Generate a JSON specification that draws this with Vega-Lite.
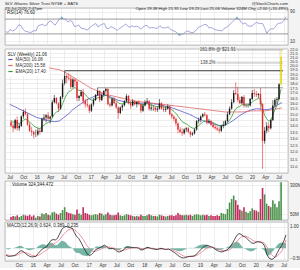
{
"$schema":"https://vega.github.io/schema/vega-lite/v6.json",
"padding":{"left":4,"right":0,"top":1,"bottom":0},
"background":"#f3f3f3",
"spacing":0,
"resolve":{"legend":{"color":"independent"},"scale":{"color":"independent"}},
"config":{
 "font":"Liberation Sans",
 "view":{"stroke":"#8a8a8a","strokeWidth":0.6,"fill":"white"},
 "axis":{"labelFontSize":4.5,"labelColor":"#333","domain":false,"ticks":false,"labelPadding":1.5,"gridColor":"#e3e3e3","gridWidth":0.6,"labelOverlap":false}
},
"datasets":{
"w":[
{"d":"2015-07-10","o":14.3,"h":14.5,"l":13.9,"c":14.0,"v":25,"e":14.41,"r":36,"m":-0.33,"s":-0.30,"mh":-0.03},
{"d":"2015-07-24","o":14.0,"h":14.2,"l":13.5,"c":13.8,"v":35,"e":14.30,"r":34,"m":-0.38,"s":-0.32,"mh":-0.06},
{"d":"2015-08-07","o":13.8,"h":14.6,"l":13.7,"c":14.5,"v":30,"e":14.34,"r":42,"m":-0.38,"s":-0.35,"mh":-0.03},
{"d":"2015-08-21","o":14.5,"h":14.8,"l":13.6,"c":13.8,"v":40,"e":14.24,"r":38,"m":-0.36,"s":-0.36,"mh":0.0},
{"d":"2015-09-04","o":13.8,"h":14.2,"l":13.6,"c":14.0,"v":25,"e":14.20,"r":40,"m":-0.34,"s":-0.36,"mh":0.02},
{"d":"2015-09-18","o":14.0,"h":14.9,"l":13.9,"c":14.8,"v":35,"e":14.31,"r":46,"m":-0.28,"s":-0.33,"mh":0.05},
{"d":"2015-10-02","o":14.8,"h":15.4,"l":14.6,"c":15.2,"v":45,"e":14.47,"r":55,"m":-0.18,"s":-0.28,"mh":0.10},
{"d":"2015-10-16","o":15.2,"h":15.5,"l":14.9,"c":15.0,"v":40,"e":14.57,"r":52,"m":-0.12,"s":-0.23,"mh":0.11},
{"d":"2015-10-30","o":15.0,"h":15.1,"l":14.0,"c":14.1,"v":35,"e":14.48,"r":42,"m":-0.15,"s":-0.20,"mh":0.05},
{"d":"2015-11-13","o":14.1,"h":14.3,"l":13.5,"c":13.6,"v":45,"e":14.32,"r":37,"m":-0.24,"s":-0.21,"mh":-0.03},
{"d":"2015-11-27","o":13.6,"h":13.9,"l":13.2,"c":13.5,"v":30,"e":14.17,"r":36,"m":-0.32,"s":-0.24,"mh":-0.08},
{"d":"2015-12-11","o":13.5,"h":13.6,"l":13.0,"c":13.3,"v":40,"e":14.01,"r":34,"m":-0.38,"s":-0.28,"mh":-0.10},
{"d":"2015-12-25","o":13.3,"h":13.7,"l":13.1,"c":13.3,"v":20,"e":13.88,"r":35,"m":-0.41,"s":-0.33,"mh":-0.08},
{"d":"2016-01-08","o":13.3,"h":13.8,"l":13.2,"c":13.6,"v":35,"e":13.83,"r":39,"m":-0.40,"s":-0.36,"mh":-0.04},
{"d":"2016-01-22","o":13.6,"h":13.8,"l":13.3,"c":13.5,"v":30,"e":13.77,"r":38,"m":-0.38,"s":-0.37,"mh":-0.01},
{"d":"2016-02-05","o":13.5,"h":14.7,"l":13.5,"c":14.6,"v":55,"e":13.92,"r":52,"m":-0.25,"s":-0.34,"mh":0.09},
{"d":"2016-02-19","o":14.6,"h":15.0,"l":14.4,"c":14.7,"v":50,"e":14.06,"r":54,"m":-0.14,"s":-0.29,"mh":0.15},
{"d":"2016-03-04","o":14.7,"h":15.0,"l":14.3,"c":14.9,"v":60,"e":14.21,"r":56,"m":-0.04,"s":-0.22,"mh":0.18},
{"d":"2016-03-18","o":14.9,"h":15.2,"l":14.5,"c":14.6,"v":45,"e":14.28,"r":52,"m":0.02,"s":-0.15,"mh":0.17},
{"d":"2016-04-01","o":14.6,"h":14.8,"l":14.2,"c":14.8,"v":40,"e":14.37,"r":54,"m":0.06,"s":-0.09,"mh":0.15},
{"d":"2016-04-15","o":14.8,"h":16.3,"l":14.7,"c":16.1,"v":65,"e":14.68,"r":63,"m":0.22,"s":0.00,"mh":0.22},
{"d":"2016-04-29","o":16.1,"h":16.8,"l":16.0,"c":16.5,"v":70,"e":15.01,"r":65,"m":0.36,"s":0.10,"mh":0.26},
{"d":"2016-05-13","o":16.5,"h":16.6,"l":15.9,"c":16.0,"v":55,"e":15.19,"r":58,"m":0.40,"s":0.18,"mh":0.22},
{"d":"2016-05-27","o":16.0,"h":16.1,"l":15.2,"c":15.5,"v":45,"e":15.25,"r":54,"m":0.38,"s":0.24,"mh":0.14},
{"d":"2016-06-10","o":15.5,"h":16.7,"l":15.4,"c":16.6,"v":60,"e":15.49,"r":62,"m":0.45,"s":0.30,"mh":0.15},
{"d":"2016-06-24","o":16.6,"h":18.4,"l":16.4,"c":18.0,"v":85,"e":15.94,"r":70,"m":0.65,"s":0.40,"mh":0.25},
{"d":"2016-07-08","o":18.0,"h":19.39,"l":17.8,"c":18.8,"v":110,"e":16.45,"r":74,"m":0.86,"s":0.52,"mh":0.34},
{"d":"2016-07-22","o":18.8,"h":19.0,"l":18.0,"c":18.6,"v":70,"e":16.84,"r":71,"m":0.97,"s":0.65,"mh":0.32},
{"d":"2016-08-05","o":18.6,"h":19.1,"l":18.3,"c":18.5,"v":60,"e":17.14,"r":69,"m":1.02,"s":0.76,"mh":0.26},
{"d":"2016-08-19","o":18.5,"h":18.8,"l":17.4,"c":17.6,"v":55,"e":17.22,"r":62,"m":0.98,"s":0.84,"mh":0.14},
{"d":"2016-09-02","o":17.6,"h":18.6,"l":17.5,"c":18.4,"v":50,"e":17.43,"r":66,"m":0.96,"s":0.89,"mh":0.07},
{"d":"2016-09-16","o":18.4,"h":18.5,"l":17.7,"c":18.2,"v":45,"e":17.57,"r":63,"m":0.92,"s":0.91,"mh":0.01},
{"d":"2016-09-30","o":18.2,"h":18.3,"l":16.2,"c":16.5,"v":90,"e":17.38,"r":50,"m":0.72,"s":0.86,"mh":-0.14},
{"d":"2016-10-14","o":16.5,"h":16.8,"l":16.2,"c":16.7,"v":55,"e":17.26,"r":51,"m":0.55,"s":0.78,"mh":-0.23},
{"d":"2016-10-28","o":16.7,"h":17.3,"l":16.6,"c":17.1,"v":45,"e":17.23,"r":54,"m":0.45,"s":0.68,"mh":-0.23},
{"d":"2016-11-11","o":17.1,"h":17.4,"l":15.9,"c":16.2,"v":110,"e":17.04,"r":46,"m":0.28,"s":0.56,"mh":-0.28},
{"d":"2016-11-25","o":16.2,"h":16.4,"l":15.6,"c":15.9,"v":60,"e":16.83,"r":44,"m":0.08,"s":0.42,"mh":-0.34},
{"d":"2016-12-09","o":15.9,"h":16.4,"l":15.6,"c":15.8,"v":55,"e":16.64,"r":43,"m":-0.10,"s":0.26,"mh":-0.36},
{"d":"2016-12-23","o":15.8,"h":15.9,"l":15.1,"c":15.3,"v":45,"e":16.40,"r":40,"m":-0.28,"s":0.10,"mh":-0.38},
{"d":"2017-01-06","o":15.3,"h":16.0,"l":15.2,"c":15.9,"v":40,"e":16.31,"r":47,"m":-0.34,"s":-0.03,"mh":-0.31},
{"d":"2017-01-20","o":15.9,"h":16.5,"l":15.7,"c":16.3,"v":45,"e":16.31,"r":51,"m":-0.30,"s":-0.12,"mh":-0.18},
{"d":"2017-02-03","o":16.3,"h":16.9,"l":16.2,"c":16.8,"v":50,"e":16.40,"r":55,"m":-0.20,"s":-0.16,"mh":-0.04},
{"d":"2017-02-17","o":16.8,"h":17.54,"l":16.7,"c":17.2,"v":45,"e":16.54,"r":58,"m":-0.06,"s":-0.14,"mh":0.08},
{"d":"2017-03-03","o":17.2,"h":17.3,"l":16.1,"c":16.3,"v":60,"e":16.50,"r":49,"m":-0.02,"s":-0.10,"mh":0.08},
{"d":"2017-03-17","o":16.3,"h":17.0,"l":16.2,"c":16.8,"v":55,"e":16.55,"r":53,"m":0.02,"s":-0.06,"mh":0.08},
{"d":"2017-03-31","o":16.8,"h":17.3,"l":16.7,"c":17.2,"v":40,"e":16.67,"r":56,"m":0.08,"s":-0.02,"mh":0.10},
{"d":"2017-04-14","o":17.2,"h":17.5,"l":17.0,"c":17.4,"v":50,"e":16.80,"r":58,"m":0.14,"s":0.03,"mh":0.11},
{"d":"2017-04-28","o":17.4,"h":17.5,"l":15.8,"c":15.9,"v":65,"e":16.64,"r":45,"m":0.08,"s":0.06,"mh":0.02},
{"d":"2017-05-12","o":15.9,"h":16.1,"l":15.6,"c":15.8,"v":45,"e":16.49,"r":44,"m":0.00,"s":0.05,"mh":-0.05},
{"d":"2017-05-26","o":15.8,"h":16.5,"l":15.7,"c":16.4,"v":40,"e":16.47,"r":50,"m":-0.02,"s":0.03,"mh":-0.05},
{"d":"2017-06-09","o":16.4,"h":16.6,"l":15.9,"c":16.0,"v":40,"e":16.39,"r":47,"m":-0.02,"s":0.01,"mh":-0.03},
{"d":"2017-06-23","o":16.0,"h":16.2,"l":15.5,"c":15.6,"v":45,"e":16.25,"r":44,"m":-0.06,"s":-0.01,"mh":-0.05},
{"d":"2017-07-07","o":15.6,"h":15.7,"l":14.6,"c":15.1,"v":65,"e":16.04,"r":39,"m":-0.16,"s":-0.05,"mh":-0.11},
{"d":"2017-07-21","o":15.1,"h":15.7,"l":15.0,"c":15.6,"v":40,"e":15.96,"r":45,"m":-0.18,"s":-0.09,"mh":-0.09},
{"d":"2017-08-04","o":15.6,"h":15.9,"l":15.3,"c":15.8,"v":35,"e":15.93,"r":48,"m":-0.14,"s":-0.11,"mh":-0.03},
{"d":"2017-08-18","o":15.8,"h":16.3,"l":15.7,"c":16.2,"v":40,"e":15.98,"r":52,"m":-0.08,"s":-0.10,"mh":0.02},
{"d":"2017-09-01","o":16.2,"h":16.9,"l":16.1,"c":16.7,"v":50,"e":16.11,"r":57,"m":0.02,"s":-0.07,"mh":0.09},
{"d":"2017-09-15","o":16.7,"h":16.8,"l":15.9,"c":16.0,"v":45,"e":16.09,"r":50,"m":0.06,"s":-0.04,"mh":0.10},
{"d":"2017-09-29","o":16.0,"h":16.2,"l":15.5,"c":15.8,"v":40,"e":16.04,"r":48,"m":0.04,"s":-0.01,"mh":0.05},
{"d":"2017-10-13","o":15.8,"h":16.4,"l":15.7,"c":16.2,"v":35,"e":16.07,"r":52,"m":0.04,"s":0.01,"mh":0.03},
{"d":"2017-10-27","o":16.2,"h":16.3,"l":15.8,"c":15.9,"v":30,"e":16.04,"r":49,"m":0.02,"s":0.02,"mh":0.0},
{"d":"2017-11-10","o":15.9,"h":16.2,"l":15.6,"c":16.1,"v":35,"e":16.05,"r":51,"m":0.02,"s":0.02,"mh":0.0},
{"d":"2017-11-24","o":16.1,"h":16.3,"l":15.8,"c":15.9,"v":30,"e":16.02,"r":49,"m":0.00,"s":0.01,"mh":-0.01},
{"d":"2017-12-08","o":15.9,"h":15.9,"l":15.1,"c":15.3,"v":45,"e":15.89,"r":43,"m":-0.08,"s":-0.01,"mh":-0.07},
{"d":"2017-12-22","o":15.3,"h":15.9,"l":15.2,"c":15.8,"v":35,"e":15.87,"r":48,"m":-0.08,"s":-0.03,"mh":-0.05},
{"d":"2018-01-05","o":15.8,"h":16.3,"l":15.7,"c":16.1,"v":35,"e":15.91,"r":52,"m":-0.02,"s":-0.03,"mh":0.01},
{"d":"2018-01-19","o":16.1,"h":16.5,"l":16.0,"c":16.2,"v":40,"e":15.96,"r":53,"m":0.04,"s":-0.01,"mh":0.05},
{"d":"2018-02-02","o":16.2,"h":16.3,"l":15.3,"c":15.5,"v":50,"e":15.88,"r":46,"m":0.02,"s":0.00,"mh":0.02},
{"d":"2018-02-16","o":15.5,"h":15.9,"l":15.3,"c":15.6,"v":40,"e":15.83,"r":47,"m":-0.02,"s":0.00,"mh":-0.02},
{"d":"2018-03-02","o":15.6,"h":15.8,"l":15.3,"c":15.6,"v":35,"e":15.79,"r":47,"m":-0.04,"s":-0.01,"mh":-0.03},
{"d":"2018-03-16","o":15.6,"h":15.7,"l":15.2,"c":15.4,"v":35,"e":15.72,"r":45,"m":-0.06,"s":-0.03,"mh":-0.03},
{"d":"2018-03-30","o":15.4,"h":15.7,"l":15.2,"c":15.5,"v":30,"e":15.68,"r":46,"m":-0.06,"s":-0.04,"mh":-0.02},
{"d":"2018-04-13","o":15.5,"h":16.4,"l":15.4,"c":16.0,"v":45,"e":15.74,"r":52,"m":-0.02,"s":-0.04,"mh":0.02},
{"d":"2018-04-27","o":16.0,"h":16.1,"l":15.4,"c":15.5,"v":40,"e":15.70,"r":47,"m":-0.02,"s":-0.03,"mh":0.01},
{"d":"2018-05-11","o":15.5,"h":15.8,"l":15.2,"c":15.4,"v":35,"e":15.65,"r":46,"m":-0.05,"s":-0.04,"mh":-0.01},
{"d":"2018-05-25","o":15.4,"h":15.7,"l":15.2,"c":15.5,"v":30,"e":15.62,"r":47,"m":-0.06,"s":-0.05,"mh":-0.01},
{"d":"2018-06-08","o":15.5,"h":15.9,"l":15.4,"c":15.7,"v":35,"e":15.63,"r":49,"m":-0.04,"s":-0.05,"mh":0.01},
{"d":"2018-06-22","o":15.7,"h":15.8,"l":14.9,"c":15.0,"v":40,"e":15.52,"r":42,"m":-0.09,"s":-0.06,"mh":-0.03},
{"d":"2018-07-06","o":15.0,"h":15.1,"l":14.6,"c":14.8,"v":40,"e":15.39,"r":39,"m":-0.16,"s":-0.09,"mh":-0.07},
{"d":"2018-07-20","o":14.8,"h":14.9,"l":14.4,"c":14.6,"v":35,"e":15.25,"r":37,"m":-0.22,"s":-0.13,"mh":-0.09},
{"d":"2018-08-03","o":14.6,"h":14.7,"l":14.0,"c":14.2,"v":40,"e":15.06,"r":33,"m":-0.30,"s":-0.18,"mh":-0.12},
{"d":"2018-08-17","o":14.2,"h":14.3,"l":13.4,"c":13.7,"v":60,"e":14.82,"r":27,"m":-0.38,"s":-0.24,"mh":-0.14},
{"d":"2018-08-31","o":13.7,"h":13.9,"l":13.4,"c":13.5,"v":45,"e":14.58,"r":28,"m":-0.44,"s":-0.31,"mh":-0.13},
{"d":"2018-09-14","o":13.5,"h":13.8,"l":13.2,"c":13.4,"v":40,"e":14.37,"r":30,"m":-0.46,"s":-0.36,"mh":-0.10},
{"d":"2018-09-28","o":13.4,"h":13.8,"l":13.3,"c":13.7,"v":40,"e":14.25,"r":36,"m":-0.44,"s":-0.39,"mh":-0.05},
{"d":"2018-10-12","o":13.7,"h":13.9,"l":13.5,"c":13.8,"v":45,"e":14.17,"r":38,"m":-0.40,"s":-0.40,"mh":0.0},
{"d":"2018-10-26","o":13.8,"h":13.9,"l":13.4,"c":13.5,"v":40,"e":14.05,"r":35,"m":-0.38,"s":-0.40,"mh":0.02},
{"d":"2018-11-09","o":13.5,"h":13.6,"l":13.1,"c":13.3,"v":45,"e":13.92,"r":33,"m":-0.38,"s":-0.39,"mh":0.01},
{"d":"2018-11-23","o":13.3,"h":13.5,"l":13.2,"c":13.4,"v":35,"e":13.82,"r":35,"m":-0.36,"s":-0.38,"mh":0.02},
{"d":"2018-12-07","o":13.4,"h":13.8,"l":13.3,"c":13.7,"v":45,"e":13.80,"r":40,"m":-0.30,"s":-0.35,"mh":0.05},
{"d":"2018-12-21","o":13.7,"h":14.5,"l":13.6,"c":14.4,"v":50,"e":13.91,"r":48,"m":-0.18,"s":-0.30,"mh":0.12},
{"d":"2019-01-04","o":14.4,"h":14.7,"l":14.2,"c":14.5,"v":45,"e":14.02,"r":50,"m":-0.08,"s":-0.23,"mh":0.15},
{"d":"2019-01-18","o":14.5,"h":14.9,"l":14.3,"c":14.8,"v":40,"e":14.16,"r":53,"m":0.02,"s":-0.15,"mh":0.17},
{"d":"2019-02-01","o":14.8,"h":15.1,"l":14.7,"c":15.0,"v":45,"e":14.31,"r":56,"m":0.10,"s":-0.07,"mh":0.17},
{"d":"2019-02-15","o":15.0,"h":15.2,"l":14.8,"c":14.9,"v":40,"e":14.42,"r":54,"m":0.14,"s":0.00,"mh":0.14},
{"d":"2019-03-01","o":14.9,"h":15.0,"l":14.1,"c":14.3,"v":45,"e":14.40,"r":46,"m":0.10,"s":0.04,"mh":0.06},
{"d":"2019-03-15","o":14.3,"h":14.6,"l":14.2,"c":14.4,"v":35,"e":14.40,"r":47,"m":0.06,"s":0.05,"mh":0.01},
{"d":"2019-03-29","o":14.4,"h":14.5,"l":14.0,"c":14.1,"v":40,"e":14.35,"r":44,"m":0.02,"s":0.04,"mh":-0.02},
{"d":"2019-04-12","o":14.1,"h":14.3,"l":13.8,"c":13.9,"v":35,"e":14.27,"r":41,"m":-0.06,"s":0.01,"mh":-0.07},
{"d":"2019-04-26","o":13.9,"h":14.1,"l":13.7,"c":13.8,"v":35,"e":14.18,"r":40,"m":-0.12,"s":-0.03,"mh":-0.09},
{"d":"2019-05-10","o":13.8,"h":14.0,"l":13.6,"c":13.7,"v":40,"e":14.10,"r":39,"m":-0.16,"s":-0.07,"mh":-0.09},
{"d":"2019-05-24","o":13.7,"h":13.9,"l":13.4,"c":13.6,"v":35,"e":14.01,"r":38,"m":-0.18,"s":-0.11,"mh":-0.07},
{"d":"2019-06-07","o":13.6,"h":14.1,"l":13.5,"c":14.0,"v":60,"e":14.01,"r":45,"m":-0.14,"s":-0.12,"mh":-0.02},
{"d":"2019-06-21","o":14.0,"h":14.4,"l":13.8,"c":14.1,"v":55,"e":14.03,"r":47,"m":-0.10,"s":-0.12,"mh":0.02},
{"d":"2019-07-05","o":14.1,"h":14.5,"l":14.0,"c":14.4,"v":50,"e":14.09,"r":51,"m":-0.04,"s":-0.10,"mh":0.06},
{"d":"2019-07-19","o":14.4,"h":15.2,"l":14.3,"c":15.0,"v":95,"e":14.25,"r":58,"m":0.08,"s":-0.05,"mh":0.13},
{"d":"2019-08-02","o":15.0,"h":15.7,"l":14.9,"c":15.5,"v":150,"e":14.48,"r":63,"m":0.24,"s":0.04,"mh":0.20},
{"d":"2019-08-16","o":15.5,"h":16.4,"l":15.4,"c":16.1,"v":180,"e":14.77,"r":68,"m":0.42,"s":0.15,"mh":0.27},
{"d":"2019-08-30","o":16.1,"h":17.3,"l":16.0,"c":17.0,"v":210,"e":15.17,"r":74,"m":0.60,"s":0.30,"mh":0.30},
{"d":"2019-09-13","o":17.0,"h":18.1,"l":16.8,"c":16.9,"v":170,"e":15.48,"r":70,"m":0.68,"s":0.43,"mh":0.25},
{"d":"2019-09-27","o":16.9,"h":17.6,"l":16.1,"c":16.3,"v":130,"e":15.63,"r":61,"m":0.64,"s":0.52,"mh":0.12},
{"d":"2019-10-11","o":16.3,"h":16.6,"l":15.9,"c":16.0,"v":90,"e":15.70,"r":57,"m":0.56,"s":0.56,"mh":0.0},
{"d":"2019-10-25","o":16.0,"h":16.7,"l":15.9,"c":16.6,"v":80,"e":15.86,"r":60,"m":0.52,"s":0.56,"mh":-0.04},
{"d":"2019-11-08","o":16.6,"h":16.8,"l":15.6,"c":15.8,"v":110,"e":15.85,"r":52,"m":0.42,"s":0.52,"mh":-0.10},
{"d":"2019-11-22","o":15.8,"h":16.0,"l":15.6,"c":15.8,"v":70,"e":15.84,"r":51,"m":0.32,"s":0.46,"mh":-0.14},
{"d":"2019-12-06","o":15.8,"h":16.0,"l":15.6,"c":15.8,"v":60,"e":15.83,"r":51,"m":0.24,"s":0.39,"mh":-0.15},
{"d":"2019-12-20","o":15.8,"h":16.5,"l":15.7,"c":16.4,"v":75,"e":15.93,"r":56,"m":0.22,"s":0.33,"mh":-0.11},
{"d":"2020-01-03","o":16.4,"h":17.3,"l":16.3,"c":17.0,"v":100,"e":16.12,"r":61,"m":0.28,"s":0.31,"mh":-0.03},
{"d":"2020-01-17","o":17.0,"h":17.4,"l":16.6,"c":16.9,"v":85,"e":16.26,"r":59,"m":0.30,"s":0.30,"mh":0.0},
{"d":"2020-01-31","o":16.9,"h":17.2,"l":16.6,"c":16.8,"v":80,"e":16.36,"r":58,"m":0.28,"s":0.29,"mh":-0.01},
{"d":"2020-02-14","o":16.8,"h":17.0,"l":16.5,"c":16.9,"v":70,"e":16.46,"r":58,"m":0.24,"s":0.28,"mh":-0.04},
{"d":"2020-02-28","o":16.9,"h":17.5,"l":15.4,"c":15.9,"v":180,"e":16.36,"r":47,"m":0.10,"s":0.22,"mh":-0.12},
{"d":"2020-03-13","o":15.9,"h":16.0,"l":10.86,"c":12.8,"v":275,"e":15.50,"r":31,"m":-0.28,"s":0.06,"mh":-0.34},
{"d":"2020-03-27","o":12.8,"h":13.9,"l":12.6,"c":13.6,"v":220,"e":14.90,"r":40,"m":-0.46,"s":-0.12,"mh":-0.34},
{"d":"2020-04-10","o":13.6,"h":14.3,"l":13.4,"c":14.0,"v":140,"e":14.60,"r":44,"m":-0.52,"s":-0.28,"mh":-0.24},
{"d":"2020-04-24","o":14.0,"h":14.3,"l":13.5,"c":13.8,"v":120,"e":14.40,"r":43,"m":-0.50,"s":-0.38,"mh":-0.12},
{"d":"2020-05-08","o":13.8,"h":14.6,"l":13.7,"c":14.5,"v":110,"e":14.45,"r":49,"m":-0.40,"s":-0.42,"mh":0.02},
{"d":"2020-05-22","o":14.5,"h":16.3,"l":14.4,"c":15.8,"v":170,"e":14.90,"r":57,"m":-0.20,"s":-0.36,"mh":0.16},
{"d":"2020-06-05","o":15.8,"h":16.5,"l":15.6,"c":16.3,"v":140,"e":15.40,"r":59,"m":-0.02,"s":-0.26,"mh":0.24},
{"d":"2020-06-19","o":16.3,"h":16.6,"l":15.9,"c":16.4,"v":110,"e":15.80,"r":60,"m":0.12,"s":-0.14,"mh":0.26},
{"d":"2020-07-03","o":16.4,"h":18.0,"l":16.3,"c":17.9,"v":160,"e":16.50,"r":66,"m":0.34,"s":0.10,"mh":0.24},
{"d":"2020-07-17","o":17.9,"h":21.91,"l":17.7,"c":21.06,"v":324,"e":17.40,"r":76.6,"m":0.62,"s":0.39,"mh":0.23}
],
"ma":[
{"d":"2015-07-01","ma50":15.9,"ma200":20.9},{"d":"2015-08-01","ma50":15.7,"ma200":20.75},{"d":"2015-09-01","ma50":15.5,"ma200":20.6},{"d":"2015-10-01","ma50":15.3,"ma200":20.45},{"d":"2015-11-01","ma50":15.1,"ma200":20.3},{"d":"2015-12-01","ma50":14.9,"ma200":20.15},
{"d":"2016-01-01","ma50":14.7,"ma200":20.0},{"d":"2016-02-01","ma50":14.6,"ma200":19.9},{"d":"2016-03-01","ma50":14.5,"ma200":19.8},{"d":"2016-04-01","ma50":14.4,"ma200":19.7},{"d":"2016-05-01","ma50":14.35,"ma200":19.6},{"d":"2016-06-01","ma50":14.4,"ma200":19.5},{"d":"2016-07-01","ma50":14.7,"ma200":19.3},{"d":"2016-08-01","ma50":15.0,"ma200":19.0},{"d":"2016-09-01","ma50":15.4,"ma200":18.7},{"d":"2016-10-01","ma50":15.7,"ma200":18.4},{"d":"2016-11-01","ma50":16.0,"ma200":18.1},{"d":"2016-12-01","ma50":16.3,"ma200":17.8},
{"d":"2017-01-01","ma50":16.5,"ma200":17.5},{"d":"2017-02-01","ma50":16.7,"ma200":17.3},{"d":"2017-03-01","ma50":16.8,"ma200":17.1},{"d":"2017-04-01","ma50":16.8,"ma200":16.95},{"d":"2017-05-01","ma50":16.7,"ma200":16.8},{"d":"2017-06-01","ma50":16.5,"ma200":16.7},{"d":"2017-07-01","ma50":16.3,"ma200":16.6},{"d":"2017-08-01","ma50":16.2,"ma200":16.5},{"d":"2017-09-01","ma50":16.1,"ma200":16.4},{"d":"2017-10-01","ma50":16.1,"ma200":16.3},{"d":"2017-11-01","ma50":16.0,"ma200":16.2},{"d":"2017-12-01","ma50":16.0,"ma200":16.15},
{"d":"2018-01-01","ma50":16.0,"ma200":16.1},{"d":"2018-02-01","ma50":16.0,"ma200":16.05},{"d":"2018-03-01","ma50":15.95,"ma200":16.0},{"d":"2018-04-01","ma50":15.9,"ma200":15.95},{"d":"2018-05-01","ma50":15.8,"ma200":15.9},{"d":"2018-06-01","ma50":15.7,"ma200":15.85},{"d":"2018-07-01","ma50":15.6,"ma200":15.8},{"d":"2018-08-01","ma50":15.45,"ma200":15.75},{"d":"2018-09-01","ma50":15.3,"ma200":15.7},{"d":"2018-10-01","ma50":15.15,"ma200":15.65},{"d":"2018-11-01","ma50":15.0,"ma200":15.6},{"d":"2018-12-01","ma50":14.8,"ma200":15.55},
{"d":"2019-01-01","ma50":14.6,"ma200":15.5},{"d":"2019-02-01","ma50":14.45,"ma200":15.45},{"d":"2019-03-01","ma50":14.3,"ma200":15.4},{"d":"2019-04-01","ma50":14.2,"ma200":15.35},{"d":"2019-05-01","ma50":14.1,"ma200":15.3},{"d":"2019-06-01","ma50":14.0,"ma200":15.25},{"d":"2019-07-01","ma50":14.05,"ma200":15.2},{"d":"2019-08-01","ma50":14.25,"ma200":15.2},{"d":"2019-09-01","ma50":14.5,"ma200":15.2},{"d":"2019-10-01","ma50":14.8,"ma200":15.2},{"d":"2019-11-01","ma50":15.05,"ma200":15.2},{"d":"2019-12-01","ma50":15.25,"ma200":15.25},
{"d":"2020-01-01","ma50":15.4,"ma200":15.3},{"d":"2020-02-01","ma50":15.5,"ma200":15.3},{"d":"2020-03-01","ma50":15.45,"ma200":15.3},{"d":"2020-04-01","ma50":15.4,"ma200":15.3},{"d":"2020-05-01","ma50":15.45,"ma200":15.35},{"d":"2020-06-01","ma50":15.65,"ma200":15.45},{"d":"2020-07-01","ma50":15.9,"ma200":15.5},{"d":"2020-07-23","ma50":16.08,"ma200":15.58}
],
"fib":[
{"a":"2016-07-08","b":"2020-07-30","p":19.39,"k":"r1"},
{"a":"2017-02-17","b":"2020-07-30","p":17.54,"k":"r2"},
{"a":"2019-05-05","b":"2020-07-30","p":20.30,"k":"f1"},
{"a":"2019-09-20","b":"2020-07-30","p":21.91,"k":"f2"}
],
"fibt":[
{"a":"2019-04-28","p":20.30,"t":"138.2%"},
{"a":"2019-09-14","p":21.91,"t":"161.8% @ $21.91"}
]
},
"vconcat":[
{
 "width":283,"height":37,
 "layer":[
  {"data":{"values":[{"lv":30},{"lv":70}]},"mark":{"type":"rule","color":"#555","strokeWidth":0.6},"encoding":{"y":{"field":"lv","type":"quantitative"}}},
  {"data":{"name":"w"},"mark":{"type":"line","color":"#8c8fcf","strokeWidth":0.8},
   "encoding":{
    "x":{"field":"d","type":"temporal","title":null,"scale":{"type":"utc","domain":[{"year":2015,"month":7,"date":3,"utc":true},{"year":2020,"month":7,"date":30,"utc":true}]},"axis":{"labels":false,"grid":true,"tickCount":{"interval":"month","step":3}}},
    "y":{"field":"r","type":"quantitative","title":null,"scale":{"domain":[0,100],"nice":false},"axis":{"orient":"right","values":[10,30,50,70,90],"grid":true}}}},
  {"data":{"name":"w"},"transform":[{"filter":"datum.r >= 73.5 && datum.r <= 75"}],"mark":{"type":"point","shape":"triangle-up","filled":true,"size":9,"color":"#4a9f9f"},
   "encoding":{"x":{"field":"d","type":"temporal"},"y":{"field":"r","type":"quantitative"}}},
  {"data":{"name":"w"},"transform":[{"filter":"datum.r <= 27"}],"mark":{"type":"point","shape":"triangle-down","filled":true,"size":9,"color":"#4a9f9f"},
   "encoding":{"x":{"field":"d","type":"temporal"},"y":{"field":"r","type":"quantitative"}}},
  {"data":{"values":[{"t":"RSI(14) 76.60"}]},"mark":{"type":"text","align":"left","baseline":"top","dx":2,"dy":1.5,"fontSize":4.5,"color":"#222"},
   "encoding":{"x":{"datum":{"year":2015,"month":7,"date":3,"utc":true},"type":"temporal"},"y":{"datum":100},"text":{"field":"t"}}},
  {"data":{"values":[{"k":"L"}]},"mark":{"type":"text","align":"left","baseline":"bottom","dy":-2.5,"fontSize":4.2,"lineHeight":5,"color":"#222"},
   "encoding":{"x":{"datum":{"year":2015,"month":7,"date":3,"utc":true},"type":"temporal"},"y":{"datum":100},"text":{"value":["SLV iShares Silver Trust NYSE + BATS","23-Jul-2020 2:47pm"]}}},
  {"data":{"values":[{"k":"R"}]},"mark":{"type":"text","align":"right","baseline":"bottom","dy":-2.5,"fontSize":4.2,"lineHeight":5,"color":"#222"},
   "encoding":{"x":{"datum":{"year":2020,"month":7,"date":30,"utc":true},"type":"temporal"},"y":{"datum":100},"text":{"value":["@StockCharts.com","Open 19.38 High 21.91 Low 19.23 Last 21.06 Volume 324M Chg +2.00 (+10.49%)"]}}}
 ]
},
{
 "width":283,"height":124,
 "layer":[
  {"data":{"name":"fib"},"mark":{"type":"rule"},
   "encoding":{"x":{"field":"a","type":"temporal"},"x2":{"field":"b"},"y":{"field":"p","type":"quantitative"},
    "color":{"condition":[{"test":"datum.k=='r1'","value":"#3a3a3a"},{"test":"datum.k=='r2'","value":"#9a9a9a"}],"value":"#8a8a8a"},
    "strokeWidth":{"condition":[{"test":"datum.k=='r1'","value":1.1},{"test":"datum.k=='r2'","value":0.9}],"value":0.6}}},
  {"data":{"name":"fibt"},"mark":{"type":"text","align":"right","baseline":"middle","fontSize":4.5,"color":"#444"},
   "encoding":{"x":{"field":"a","type":"temporal"},"y":{"field":"p","type":"quantitative"},"text":{"field":"t"}}},
  {"data":{"name":"ma"},"transform":[{"fold":["ma50","ma200"],"as":["k","val"]}],"mark":{"type":"line","strokeWidth":0.8},
   "encoding":{"x":{"field":"d","type":"temporal"},"y":{"field":"val","type":"quantitative"},
    "color":{"field":"k","type":"nominal","scale":{"domain":["ma50","ma200","ema"],"range":["#5454d2","#e06464","#2f9a2f"]},
     "legend":{"title":"SLV (Weekly) 21.06","orient":"top-left","offset":1,"padding":1.5,"fillColor":"white","labelFontSize":4.5,"titleFontSize":4.5,"titleFontWeight":"normal","titleColor":"#222","labelColor":"#333","symbolType":"stroke","symbolStrokeWidth":1.2,"symbolSize":18,"rowPadding":0,"titlePadding":0.5,"labelOffset":2,
      "labelExpr":"datum.label == 'ma50' ? 'MA(50) 16.08' : datum.label == 'ma200' ? 'MA(200) 15.58' : 'EMA(20) 17.40'"}}}},
  {"data":{"name":"w"},"mark":{"type":"line","strokeWidth":0.8},
   "encoding":{"x":{"field":"d","type":"temporal"},"y":{"field":"e","type":"quantitative"},"color":{"datum":"ema"}}},
  {"data":{"name":"w"},"mark":{"type":"rule","strokeWidth":0.6},
   "encoding":{
    "x":{"field":"d","type":"temporal","title":null,"scale":{"type":"utc","domain":[{"year":2015,"month":7,"date":3,"utc":true},{"year":2020,"month":7,"date":30,"utc":true}]},
     "axis":{"grid":true,"tickCount":{"interval":"month","step":3},"labelExpr":"utcFormat(datum.value,'%m')=='01' ? utcFormat(datum.value,'%y') : utcFormat(datum.value,'%b')"}},
    "y":{"field":"l","type":"quantitative","title":null,"scale":{"type":"log","domain":[10.6,22.04],"nice":false},
     "axis":{"orient":"right","values":[11,11.5,12,12.5,13,13.5,14,14.5,15,15.5,16,16.5,17,17.5,18,18.5,19,19.5,20,20.5,21,21.5,22],"format":".1f","labelFontSize":4,"grid":true}},
    "y2":{"field":"h"},
    "color":{"condition":[{"test":"datum.h > 21","value":"#e6d200"},{"test":"datum.c >= datum.o","value":"#1a1a1a"}],"value":"#e32a2a"}}},
  {"data":{"name":"w"},"mark":{"type":"bar","size":1.4},
   "encoding":{"x":{"field":"d","type":"temporal"},"y":{"field":"o","type":"quantitative"},"y2":{"field":"c"},
    "color":{"condition":[{"test":"datum.h > 21","value":"#e6d200"},{"test":"datum.c >= datum.o","value":"#1a1a1a"}],"value":"#e32a2a"}}}
 ]
},
{
 "width":283,"height":39,
 "layer":[
  {"data":{"name":"w"},"mark":{"type":"bar","size":1.6},
   "encoding":{
    "x":{"field":"d","type":"temporal","title":null,"scale":{"type":"utc","domain":[{"year":2015,"month":7,"date":3,"utc":true},{"year":2020,"month":7,"date":30,"utc":true}]},"axis":{"labels":false,"grid":true,"tickCount":{"interval":"month","step":3}}},
    "y":{"field":"v","type":"quantitative","title":null,"scale":{"domain":[0,335],"nice":false},"axis":{"orient":"right","values":[50,100,150,200,250,300],"labelExpr":"datum.value + 'M'","grid":true}},
    "color":{"condition":{"test":"datum.c >= datum.o","value":"#4a914a"},"value":"#c42a5e"}}},
  {"data":{"values":[{"t":"Volume 324,344,472"}]},"mark":{"type":"text","align":"left","baseline":"top","dx":2,"dy":1,"fontSize":4.5,"color":"#222"},
   "encoding":{"x":{"datum":{"year":2015,"month":7,"date":3,"utc":true},"type":"temporal"},"y":{"datum":335},"text":{"field":"t"}}}
 ]
},
{
 "width":283,"height":39,
 "layer":[
  {"data":{"name":"w"},"mark":{"type":"area","color":"#5fa996","opacity":0.85},
   "encoding":{
    "x":{"field":"d","type":"temporal","title":null,"scale":{"type":"utc","domain":[{"year":2015,"month":7,"date":3,"utc":true},{"year":2020,"month":7,"date":30,"utc":true}]},
     "axis":{"grid":true,"tickCount":{"interval":"month","step":3},"labelExpr":"utcFormat(datum.value,'%m')=='01' ? utcFormat(datum.value,'%y') : utcFormat(datum.value,'%b')"}},
    "y":{"field":"mh","type":"quantitative","title":null,"scale":{"domain":[-0.6,1.22],"nice":false},"axis":{"orient":"right","values":[-0.5,-0.25,0,0.25,0.5,0.75,1],"format":".2f","grid":true}},
    "y2":{"datum":0}}},
  {"data":{"name":"w"},"mark":{"type":"line","color":"#ec7a8a","strokeWidth":0.8},
   "encoding":{"x":{"field":"d","type":"temporal"},"y":{"field":"s","type":"quantitative"}}},
  {"data":{"name":"w"},"mark":{"type":"line","color":"#222","strokeWidth":0.8},
   "encoding":{"x":{"field":"d","type":"temporal"},"y":{"field":"m","type":"quantitative"}}},
  {"data":{"values":[{"t":"MACD(12,26,9) 0.624, 0.389, 0.235"}]},"mark":{"type":"text","align":"left","baseline":"top","dx":2,"dy":1,"fontSize":4.5,"color":"#222"},
   "encoding":{"x":{"datum":{"year":2015,"month":7,"date":3,"utc":true},"type":"temporal"},"y":{"datum":1.22},"text":{"field":"t"}}}
 ]
}
]
}
